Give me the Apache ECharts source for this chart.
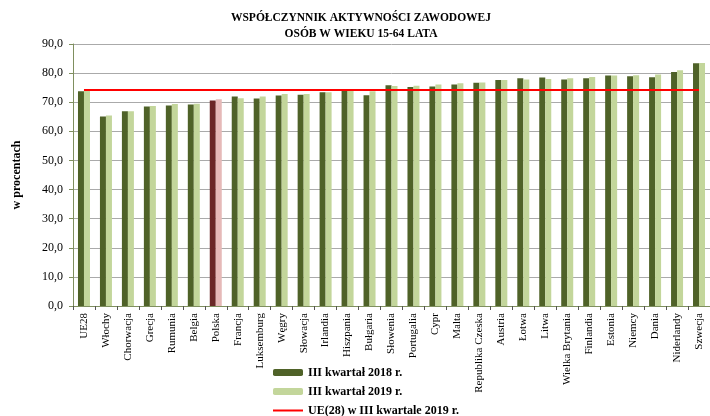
<!DOCTYPE html>
<html>
<head>
<meta charset="utf-8">
<script src="https://cdn.jsdelivr.net/npm/echarts@6/dist/echarts.min.js"></script>
<style>
  html, body { margin: 0; padding: 0; background: #fff; }
  #chart { width: 710px; height: 416px; }
</style>
</head>
<body>
<div id="chart"></div>
<script>
// Labour-force participation rate, population aged 15-64 (%)
const categories = ['UE28', 'Włochy', 'Chorwacja', 'Grecja', 'Rumunia', 'Belgia', 'Polska',
  'Francja', 'Luksemburg', 'Węgry', 'Słowacja', 'Irlandia', 'Hiszpania', 'Bułgaria',
  'Słowenia', 'Portugalia', 'Cypr', 'Malta', 'Republika Czeska', 'Austria', 'Łotwa',
  'Litwa', 'Wielka Brytania', 'Finlandia', 'Estonia', 'Niemcy', 'Dania', 'Niderlandy', 'Szwecja'];

const q3_2018 = [73.8, 65.1, 66.9, 68.5, 68.9, 69.2, 70.6,
  72.0, 71.3, 72.3, 72.6, 73.4, 73.9, 72.4,
  75.8, 75.2, 75.4, 76.1, 76.7, 77.6, 78.2,
  78.5, 77.8, 78.2, 79.2, 78.9, 78.6, 80.4, 83.4];

const q3_2019 = [74.2, 65.4, 66.9, 68.7, 69.4, 69.5, 71.0,
  71.4, 72.0, 72.8, 72.8, 73.4, 73.9, 73.8,
  75.6, 75.7, 76.1, 76.5, 76.8, 77.6, 77.8,
  78.0, 78.2, 78.7, 79.2, 79.3, 79.5, 81.0, 83.5];

const ue28Level2019 = 74.2;

const yTicks = { min: 0, max: 90, interval: 10 };

const colors = {
  y2018: '#4f6228',
  y2019: '#c3d69b',
  pl2018: '#6b2727',
  pl2019: '#e6b9b8',
  ue: '#ff0000'
};

const highlight = 'Polska';
const serif = '"Liberation Serif", "DejaVu Serif", serif';

function barData(values, special) {
  return values.map((v, i) => categories[i] === highlight
    ? { value: v, itemStyle: { color: special } }
    : v);
}

const chart = echarts.init(document.getElementById('chart'), null, { renderer: 'canvas' });

chart.setOption({
  animation: false,
  title: {
    text: 'WSPÓŁCZYNNIK AKTYWNOŚCI ZAWODOWEJ\nOSÓB W WIEKU 15-64 LATA',
    left: 356,
    textAlign: 'center',
    top: 5,
    textStyle: {
      fontFamily: serif,
      fontWeight: 'bold',
      fontSize: 11.5,
      lineHeight: 16,
      color: '#000'
    }
  },
  legend: {
    orient: 'vertical',
    left: 272,
    top: 366,
    height: 60,
    padding: 0,
    itemWidth: 30,
    itemHeight: 7,
    itemGap: 6,
    textStyle: {
      fontFamily: serif,
      fontWeight: 'bold',
      fontSize: 12,
      lineHeight: 13,
      color: '#000'
    },
    data: [
      'III kwartał 2018 r.',
      'III kwartał 2019 r.',
      { name: 'UE(28) w III kwartale 2019 r.', itemStyle: { opacity: 0 } }
    ]
  },
  grid: {
    left: 73,
    top: 44,
    width: 640,
    height: 262
  },
  xAxis: {
    type: 'category',
    data: categories,
    boundaryGap: true,
    axisLine: { lineStyle: { color: '#7f8f5f', width: 1 } },
    axisTick: { show: true, alignWithLabel: false, length: 4, lineStyle: { color: '#555' } },
    axisLabel: {
      interval: 0,
      rotate: 90,
      margin: 7,
      fontFamily: serif,
      fontSize: 11,
      color: '#000'
    }
  },
  yAxis: {
    type: 'value',
    min: yTicks.min,
    max: yTicks.max,
    interval: yTicks.interval,
    name: 'w procentach',
    nameLocation: 'middle',
    nameRotate: 90,
    nameGap: 50,
    nameTextStyle: {
      fontFamily: serif,
      fontWeight: 'bold',
      fontSize: 12,
      color: '#000'
    },
    axisLine: { show: true, lineStyle: { color: '#7f8f5f', width: 1 } },
    axisTick: { show: true, length: 4, lineStyle: { color: '#7f8f5f' } },
    splitLine: { lineStyle: { color: '#aaaaaa', width: 1 } },
    axisLabel: {
      fontFamily: serif,
      fontSize: 12,
      color: '#000',
      margin: 10,
      formatter: v => v.toFixed(1).replace('.', ',')
    }
  },
  series: [
    {
      name: 'III kwartał 2018 r.',
      type: 'bar',
      barWidth: 6,
      barGap: '0%',
      itemStyle: { color: colors.y2018 },
      data: barData(q3_2018, colors.pl2018)
    },
    {
      name: 'III kwartał 2019 r.',
      type: 'bar',
      barWidth: 6,
      barGap: '0%',
      itemStyle: { color: colors.y2019 },
      data: barData(q3_2019, colors.pl2019)
    },
    {
      name: 'UE(28) w III kwartale 2019 r.',
      type: 'line',
      symbol: 'none',
      lineStyle: { color: colors.ue, width: 2 },
      itemStyle: { color: colors.ue },
      z: 5,
      data: categories.map(() => ue28Level2019)
    }
  ]
});
</script>
</body>
</html>
